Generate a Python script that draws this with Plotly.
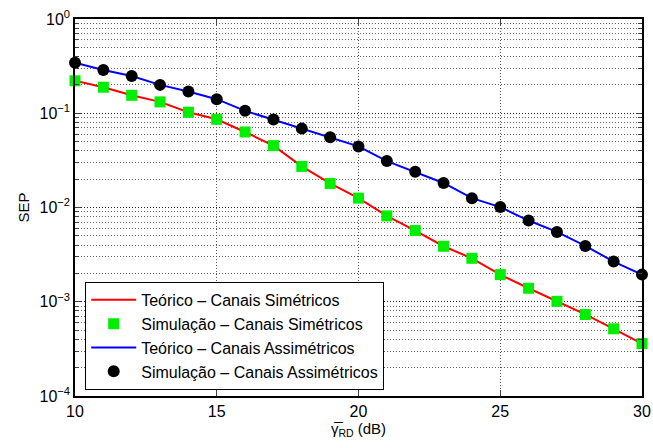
import plotly.graph_objects as go

snr_db = list(range(10, 31))
sep_sym_theory = [0.221, 0.189, 0.155, 0.132, 0.1025, 0.0863, 0.0633, 0.0453, 0.0273, 0.0180,
                  0.01257, 0.00815, 0.00569, 0.00388, 0.00289, 0.00194, 0.00139, 0.00101,
                  0.000733, 0.000516, 0.000360]
sep_sym_sim = [0.221, 0.189, 0.155, 0.132, 0.1025, 0.0863, 0.0633, 0.0453, 0.0273, 0.0180,
               0.01257, 0.00815, 0.00569, 0.00388, 0.00289, 0.00194, 0.00139, 0.00101,
               0.000733, 0.000516, 0.000360]
sep_asym_theory = [0.343, 0.287, 0.248, 0.200, 0.170, 0.141, 0.106, 0.0857, 0.0687, 0.0555,
                   0.0445, 0.0311, 0.0239, 0.0182, 0.01257, 0.0101, 0.00727, 0.00551,
                   0.00391, 0.00267, 0.00194]
sep_asym_sim = [0.343, 0.287, 0.248, 0.200, 0.170, 0.141, 0.106, 0.0857, 0.0687, 0.0555,
                0.0445, 0.0311, 0.0239, 0.0182, 0.01257, 0.0101, 0.00727, 0.00551,
                0.00391, 0.00267, 0.00194]

x_ticks = [10, 15, 20, 25, 30]
y_ticks = [1e0, 1e-1, 1e-2, 1e-3, 1e-4]
y_ticktext = ["10<sup>0</sup>", "10<sup>−1</sup>", "10<sup>−2</sup>", "10<sup>−3</sup>", "10<sup>−4</sup>"]
y_minor = [m * 10.0 ** e for e in range(-4, 0) for m in range(2, 10)]

names = ["Teórico – Canais Simétricos", "Simulação – Canais Simétricos",
         "Teórico – Canais Assimétricos", "Simulação – Canais Assimétricos"]

fig = go.Figure()
fig.add_trace(go.Scatter(x=snr_db, y=sep_sym_theory, mode="lines", name=names[0],
                         line=dict(color="#ff0000", width=2), cliponaxis=False))
fig.add_trace(go.Scatter(x=snr_db, y=sep_sym_sim, mode="markers", name=names[1],
                         marker=dict(symbol="square", color="#00ee00", size=11), cliponaxis=False))
fig.add_trace(go.Scatter(x=snr_db, y=sep_asym_theory, mode="lines", name=names[2],
                         line=dict(color="#0000ff", width=2), cliponaxis=False))
fig.add_trace(go.Scatter(x=snr_db, y=sep_asym_sim, mode="markers", name=names[3],
                         marker=dict(symbol="circle", color="#000000", size=12), cliponaxis=False))

font = "Liberation Sans, Arial, sans-serif"
grid_dash = "1px,2px"
fig.update_layout(
    width=653, height=448,
    margin=dict(l=75, r=11, t=19, b=52),
    paper_bgcolor="white", plot_bgcolor="white",
    font=dict(family=font, size=16, color="black"),
    showlegend=True,
    legend=dict(x=0.018, y=0.016, xanchor="left", yanchor="bottom",
                bgcolor="white", bordercolor="black", borderwidth=1,
                font=dict(size=16), tracegroupgap=0, itemwidth=45),
    xaxis=dict(range=[10, 30], tickvals=x_ticks, ticks="inside", ticklen=6,
               showline=True, linecolor="black", linewidth=1.5, mirror="ticks",
               showgrid=True, gridcolor="#555555", griddash=grid_dash, gridwidth=1,
               zeroline=False, tickfont=dict(size=16), automargin=False,
               title=dict(text="γ̅<sub>RD</sub> (dB)", standoff=4, font=dict(size=15))),
    yaxis=dict(type="log", range=[-4, 0], tickvals=y_ticks, ticktext=y_ticktext,
               ticks="inside", ticklen=6, automargin=False,
               showline=True, linecolor="black", linewidth=1.5, mirror="ticks",
               showgrid=True, gridcolor="#222222", griddash=grid_dash, gridwidth=1,
               zeroline=False, tickfont=dict(size=16),
               minor=dict(tickvals=y_minor, ticks="inside", ticklen=4, showgrid=True,
                          gridcolor="#666666", griddash=grid_dash, gridwidth=1),
               title=dict(text="SEP", standoff=6, font=dict(size=15))),
)

fig.write_html("out.html", config={"displayModeBar": False},
               post_script="document.body.style.margin='0';document.body.style.overflow='hidden';")
